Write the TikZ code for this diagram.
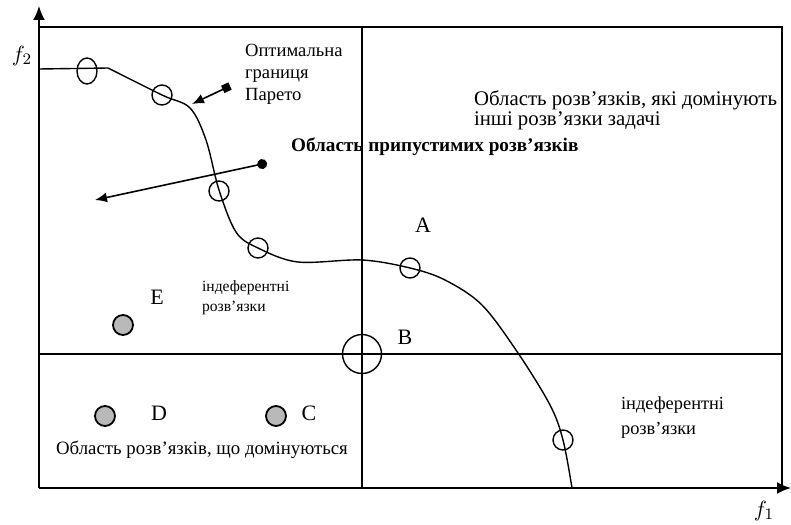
\documentclass[tikz,border=0pt]{standalone}
\usepackage{fontspec}
\setmainfont{Liberation Serif}
\usetikzlibrary{arrows.meta,shapes.geometric}

\begin{document}
\begin{tikzpicture}[
    x=0.5pt, y=-0.5pt,
    every node/.style={font=\fontsize{9.3}{10}\selectfont, align=left},
    frame/.style={line width=0.8pt, black},
    axis/.style={-{Latex[length=7pt,width=6pt]}, line width=1pt},
    opt/.style={circle, draw, line width=0.7pt, minimum size=10pt, inner sep=0pt},
    dom/.style={circle, draw, line width=0.9pt, fill=gray!55, minimum size=10pt, inner sep=0pt},
    letter/.style={font=\fontsize{11}{12}\selectfont},
    arr/.style={-{Latex[length=6pt,width=5pt]}, line width=0.8pt}
]
\useasboundingbox (0,0) rectangle (791,524);

% axes and regions
\coordinate (o)    at (39,488);
\coordinate (ytip) at (39,6);
\coordinate (xtip) at (791,488);
\draw[axis] (o) -- (ytip);
\draw[axis] (o) -- (xtip);
\draw[frame] (39,27) -- (782,27) -- (782,488);
\draw[frame] (362,27) -- (362,488);
\draw[frame] (39,354) -- (782,354);

\node[font=\fontsize{11}{12}\selectfont] (f2) at (22,56) {$f_2$};
\node[font=\fontsize{11}{12}\selectfont] (f1) at (764,511) {$f_1$};

% Pareto front
\draw[line width=0.7pt] (39,69) -- (108,68)
  plot[smooth, tension=0.55] coordinates {(108,68) (162,95) (190,108) (206,140) (219,190)
    (236,232) (258,248) (298,262) (362,260) (410,268) (445,280) (482,305) (518,353)
    (550,405) (563,440) (572,488)};

\node[ellipse, draw, line width=0.7pt, minimum width=10pt, minimum height=13pt, inner sep=0pt] (c1) at (87,71) {};
\node[opt] (c2) at (162,95) {};
\node[opt] (c3) at (219,191) {};
\node[opt] (c4) at (258,248) {};
\node[opt] (cA) at (410,268) {};
\node[opt, minimum size=19.5pt] (cB) at (362,354) {};
\node[opt] (c7) at (563,440) {};

\node[dom] (pE) at (123,325) {};
\node[dom] (pD) at (105,416) {};
\node[dom] (pC) at (276,416) {};

\node[letter] (lA) at (423,225) {A};
\node[letter] (lB) at (405,337) {B};
\node[letter] (lE) at (157,297) {E};
\node[letter] (lD) at (159,413) {D};
\node[letter] (lC) at (309,413) {C};

% labels
\node[anchor=north west, font=\fontsize{9.3}{11}\selectfont] (pareto) at (238,37) {Оптимальна\\границя\\Парето};
\coordinate (ms) at (230,86);
\coordinate (mt) at (192,104);
\draw[arr, {Square[length=4pt,width=4pt]}-{Latex[length=6pt,width=5pt]}] (ms) -- (mt);

\node[anchor=west, font=\bfseries\fontsize{9.6}{10}\selectfont] (feas) at (284,147) {Область припустимих розв'язків};
\coordinate (ds) at (267,163);
\coordinate (dt) at (95,200);
\draw[arr, {Circle[length=5pt]}-{Latex[length=6pt,width=5pt]}] (ds) -- (dt);

\node[anchor=north west, font=\fontsize{10.4}{10}\selectfont] (domin) at (467,84) {Область розв’язків, які домінують\\інші розв’язки задачі};

\node[anchor=north west, font=\fontsize{7.8}{10}\selectfont] (ind1) at (195,274) {індеферентні\\розв'язки};
\node[anchor=north west, font=\fontsize{9.2}{12.5}\selectfont] (ind2) at (614,390) {індеферентні\\розв'язки};

\node[font=\fontsize{9.4}{10}\selectfont] (dominated) at (202,450) {Область розв'язків, що домінуються};
\end{tikzpicture}
\end{document}
